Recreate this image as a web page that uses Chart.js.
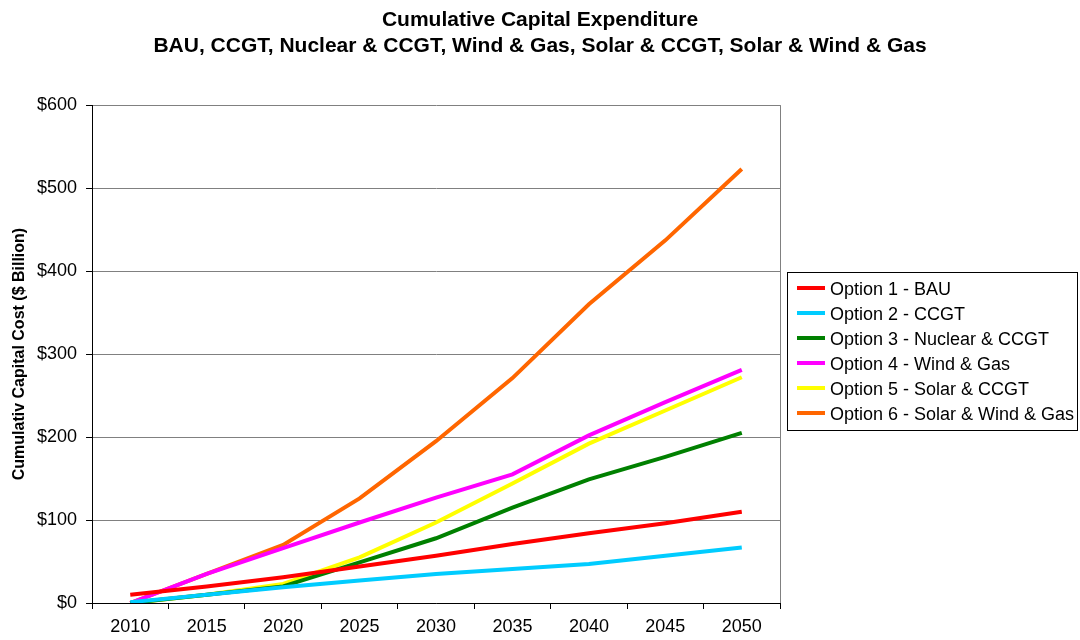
<!DOCTYPE html>
<html>
<head>
<meta charset="utf-8">
<script src="https://cdn.jsdelivr.net/npm/chart.js@4"></script>
<style>
  body { margin: 0; background: #fff; }
  #wrap { width: 1080px; height: 640px; }
</style>
</head>
<body>
<div id="wrap"><canvas id="grafico" width="1080" height="640"></canvas></div>
<script>
const years = ['2010', '2015', '2020', '2025', '2030', '2035', '2040', '2045', '2050'];
const bau = [10, 20, 31, 44, 57, 71, 84, 96, 110];
const ccgt = [1, 10, 19, 27, 35, 41, 47, 57, 67];
const nuclearCcgt = [0, 10, 20, 49, 78, 115, 149, 176, 205];
const windGas = [0, 35, 66, 97, 127, 155, 202, 242, 281];
const solarCcgt = [0, 10, 23, 55, 97, 144, 192, 232, 272];
const solarWindGas = [0, 35, 70, 126, 195, 271, 360, 437, 523];

const font = 'Arial, "Liberation Sans", sans-serif';

function serie(label, values, color) {
  return {
    label: label,
    data: values,
    borderColor: color,
    backgroundColor: color,
    borderWidth: 4,
    pointRadius: 0,
    tension: 0
  };
}

// borda direita da area do grafico + legenda com moldura (estilo Excel)
const bordas = {
  id: 'bordas',
  beforeDatasetsDraw(chart) {
    const a = chart.chartArea;
    const ctx = chart.ctx;
    ctx.save();
    ctx.strokeStyle = '#808080';
    ctx.lineWidth = 1;
    ctx.beginPath();
    ctx.moveTo(a.right + 0.5, a.top);
    ctx.lineTo(a.right + 0.5, a.bottom);
    ctx.stroke();
    ctx.restore();
  },
  afterDraw(chart) {
    const a = chart.chartArea;
    const ctx = chart.ctx;
    const sets = chart.data.datasets;
    const rowH = 25;
    ctx.save();
    ctx.font = '18px ' + font;
    const textW = Math.max(...sets.map(d => ctx.measureText(d.label).width));
    const left = Math.round(a.right) + 7;
    const width = Math.min(Math.ceil(textW) + 47, chart.width - left - 3);
    const height = sets.length * rowH + 8;
    const top = Math.round((a.top + a.bottom) / 2 - height / 2) - 3;
    ctx.strokeStyle = '#000';
    ctx.lineWidth = 1;
    ctx.strokeRect(left + 0.5, top + 0.5, width, height);
    ctx.textBaseline = 'middle';
    ctx.fillStyle = '#000';
    sets.forEach((d, i) => {
      const y = top + 17 + i * rowH;
      ctx.strokeStyle = d.borderColor;
      ctx.lineWidth = 4;
      ctx.beginPath();
      ctx.moveTo(left + 10, y - 1);
      ctx.lineTo(left + 38, y - 1);
      ctx.stroke();
      ctx.fillText(d.label, left + 43, y + 1);
    });
    ctx.restore();
  }
};

const config = {
  type: 'line',
  data: {
    labels: years,
    datasets: [
      serie('Option 1 - BAU', bau, '#FF0000'),
      serie('Option 2 - CCGT', ccgt, '#00CCFF'),
      serie('Option 3 - Nuclear & CCGT', nuclearCcgt, '#008000'),
      serie('Option 4 - Wind & Gas', windGas, '#FF00FF'),
      serie('Option 5 - Solar & CCGT', solarCcgt, '#FFFF00'),
      serie('Option 6 - Solar & Wind & Gas', solarWindGas, '#FF6600')
    ]
  },
  options: {
    responsive: false,
    animation: false,
    layout: { padding: { left: 0, right: 0, top: 0, bottom: -6 } },
    plugins: {
      title: {
        display: true,
        text: ['Cumulative Capital Expenditure', 'BAU, CCGT, Nuclear & CCGT, Wind & Gas, Solar & CCGT, Solar & Wind & Gas'],
        color: '#000',
        font: { family: font, size: 21, weight: 'bold', lineHeight: 1.24 },
        padding: { top: 7, bottom: 46 }
      },
      legend: { display: false },
      tooltip: { enabled: false }
    },
    scales: {
      x: {
        type: 'category',
        offset: true,
        border: { color: '#000' },
        grid: { offset: true, drawOnChartArea: false, tickLength: 6, color: '#000' },
        ticks: { color: '#000', font: { family: font, size: 18, lineHeight: 0.9 }, padding: 10.4, maxRotation: 0 }
      },
      y: {
        min: 0,
        max: 600,
        border: { color: '#000' },
        grid: { color: '#808080', tickColor: '#000', tickLength: 6 },
        ticks: {
          stepSize: 100,
          color: '#000',
          font: { family: font, size: 18 },
          padding: 9,
          callback: v => '$' + v
        },
        title: {
          display: true,
          text: 'Cumulativ Capital Cost ($ Billion)',
          color: '#000',
          font: { family: font, size: 16, weight: 'bold', lineHeight: 1 },
          padding: { top: 12, bottom: 0 }
        }
      },
      // espaco reservado para a legenda
      espaco: {
        type: 'linear',
        position: 'right',
        display: true,
        grid: { display: false },
        border: { display: false },
        ticks: { display: false },
        afterFit(scale) { scale.width = 300; }
      }
    }
  },
  plugins: [bordas]
};

const myChart = new Chart(document.getElementById('grafico'), config);
</script>
</body>
</html>
